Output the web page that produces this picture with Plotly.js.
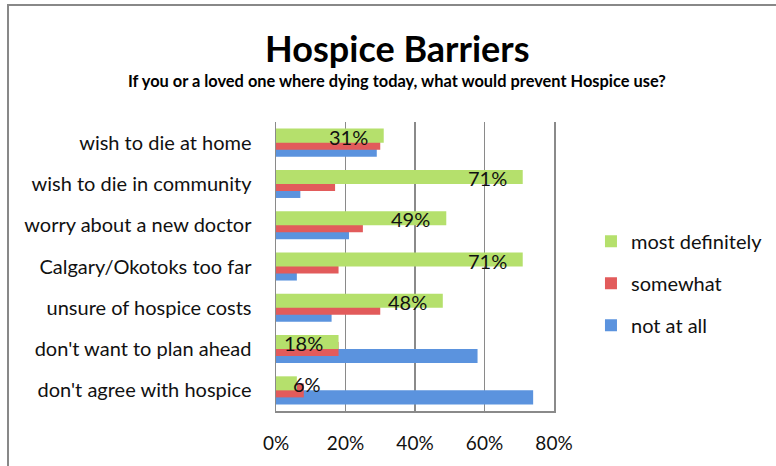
<!DOCTYPE html>
<html>
<head>
<meta charset="utf-8">
<script src="https://cdn.plot.ly/plotly-3.0.1.min.js"></script>
<style>html,body{margin:0;padding:0;background:#fff;}#chart{width:776px;height:466px;}</style>
</head>
<body>
<div id="chart"></div>
<script>
const categories = ['wish to die at home', 'wish to die in community', 'worry about a new doctor', 'Calgary/Okotoks too far', 'unsure of hospice costs', "don't want to plan ahead", "don't agree with hospice"];
const mostDefinitely = [31, 71, 49, 71, 48, 18, 6];
const somewhat = [30, 17, 25, 18, 30, 18, 8];
const notAtAll = [29, 7, 21, 6, 16, 58, 74];
const xTicks = [0, 20, 40, 60, 80];

const W = 0.34; // bar thickness in category units
const FONT = 'Lato, "Open Sans", sans-serif';
const TXT = '#111';

const traces = [
  {type: 'bar', orientation: 'h', name: 'not at all', y: categories, x: notAtAll,
   width: W, offset: 0, marker: {color: '#5b93de'}, legendgroup: 'c', legendrank: 3, hoverinfo: 'x+name'},
  {type: 'bar', orientation: 'h', name: 'somewhat', y: categories, x: somewhat,
   width: W, offset: -W / 2, marker: {color: '#e25b5b'}, legendgroup: 'b', legendrank: 2, hoverinfo: 'x+name'},
  {type: 'bar', orientation: 'h', name: 'most definitely', y: categories, x: mostDefinitely,
   width: W, offset: -W, marker: {color: '#b5e06c'}, legendgroup: 'a', legendrank: 1, hoverinfo: 'x+name'}
];

const annotations = mostDefinitely.map((v, i) => ({
  x: v, y: categories[i], xref: 'x', yref: 'y',
  text: v + '%', showarrow: false,
  xanchor: v >= 15 ? 'right' : 'left', xshift: v >= 15 ? -14 : -6, yshift: 6,
  font: {family: FONT, size: 20, color: TXT}
}));

annotations.push({
  text: 'If you or a loved one where dying today, what would prevent Hospice use?',
  xref: 'paper', yref: 'paper', x: 0.437, y: 1.142, xanchor: 'center', yanchor: 'middle',
  showarrow: false, font: {family: FONT, size: 16.4, color: '#000', weight: 'bold'}
});

const layout = {
  width: 776, height: 466,
  margin: {l: 276, r: 222, t: 122, b: 55, autoexpand: false},
  paper_bgcolor: '#fff', plot_bgcolor: '#fff',
  barmode: 'overlay',
  title: {text: '<b>Hospice Barriers</b>', x: 0.512, xanchor: 'center', y: 0.893, yanchor: 'middle',
          font: {family: FONT, size: 36, color: '#000'}},
  font: {family: FONT, color: TXT},
  xaxis: {range: [0, 80], tickvals: xTicks, ticktext: xTicks.map(t => t + '%'),
          showgrid: true, gridcolor: '#8a8a8a', gridwidth: 1.5,
          showline: true, linecolor: '#8a8a8a', linewidth: 1.5, mirror: false,
          zeroline: false, ticks: '', ticklabelstandoff: 15, tickfont: {size: 19, family: FONT, color: TXT},
          fixedrange: true},
  yaxis: {type: 'category', autorange: 'reversed', showgrid: false, zeroline: false,
          showline: true, linecolor: '#8a8a8a', linewidth: 1.5, ticks: '', mirror: true,
          ticklabelstandoff: 19, tickfont: {size: 20, family: FONT, color: TXT}, fixedrange: true},
  showlegend: true,
  legend: {x: 1.133, xanchor: 'left', y: 0.655, yanchor: 'top', traceorder: 'grouped',
           tracegroupgap: 13, font: {size: 20, family: FONT, color: TXT}, bgcolor: 'rgba(0,0,0,0)'},
  annotations: annotations,
  shapes: [{type: 'rect', xref: 'paper', yref: 'paper', x0: -0.964, x1: 2, y0: -1, y1: 1.405,
            line: {color: '#888', width: 2}, fillcolor: 'rgba(0,0,0,0)', layer: 'below'}]
};

Plotly.newPlot('chart', traces, layout, {displayModeBar: false, staticPlot: true});
</script>
</body>
</html>
